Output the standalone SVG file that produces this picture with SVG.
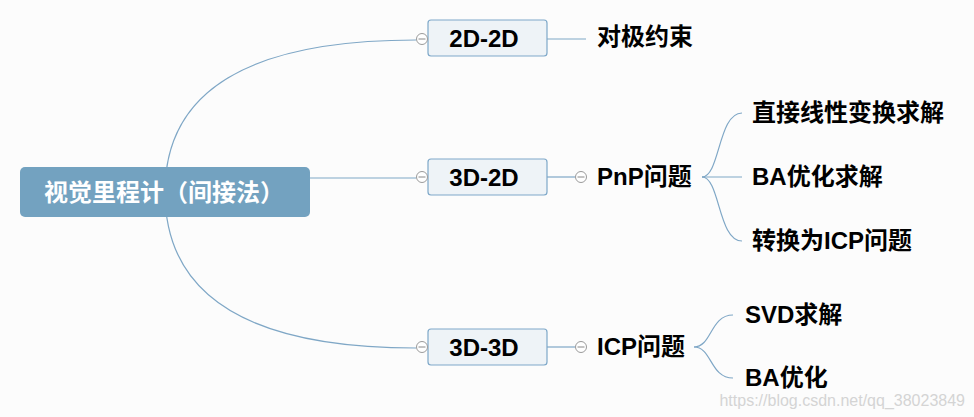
<svg xmlns="http://www.w3.org/2000/svg" width="974" height="417" viewBox="0 0 974 417">
<style>
.ln{fill:none;stroke:#7fa7c6;stroke-width:1.2}
.box{fill:#eef3f7;stroke:#7ea8c9;stroke-width:1.2}
.t{font-family:"Liberation Sans","Noto Sans CJK SC",sans-serif;font-weight:bold;font-size:24px;fill:#000}
.tc{text-anchor:middle}
.col circle{fill:#fff;stroke:#9a9a9a;stroke-width:1}
.col line{stroke:#888;stroke-width:1}
</style>
<rect width="974" height="417" fill="#fcfcfc"/>
<g id="connectors">
<path class="ln" d="M165,192 Q165,40 416,40"/>
<path class="ln" d="M310,178 L416,178"/>
<path class="ln" d="M165,192 Q165,348 416,348"/>
<path class="ln" d="M547,39 L586,39"/>
<path class="ln" d="M547,177 L575,177"/>
<path class="ln" d="M547,347 L575,347"/>
<path class="ln" d="M702,177 C720,177 718,113 742,113"/>
<path class="ln" d="M702,177 L742,177"/>
<path class="ln" d="M702,177 C720,177 718,241 742,241"/>
<path class="ln" d="M694,347 C712,347 710,315 733,315"/>
<path class="ln" d="M694,347 C712,347 710,378 733,378"/>
</g>
<g id="root">
<rect x="20" y="167" width="290" height="50" rx="5" fill="#73a2c0"/>
<text class="t tc" x="164" y="201" style="fill:#fff">视觉里程计（间接法）</text>
</g>
<g id="n2d2d">
<rect class="box" x="428" y="20" width="119" height="36" rx="3"/>
<text class="t tc" x="484" y="47">2D-2D</text>
<g class="col"><circle cx="422" cy="39" r="5.5"/><line x1="418.5" y1="39" x2="425.5" y2="39"/></g>
</g>
<g id="n3d2d">
<rect class="box" x="428" y="159" width="119" height="36" rx="3"/>
<text class="t tc" x="484" y="186">3D-2D</text>
<g class="col"><circle cx="422" cy="177" r="5.5"/><line x1="418.5" y1="177" x2="425.5" y2="177"/></g>
</g>
<g id="n3d3d">
<rect class="box" x="428" y="329" width="119" height="36" rx="3"/>
<text class="t tc" x="484" y="356">3D-3D</text>
<g class="col"><circle cx="422" cy="347" r="5.5"/><line x1="418.5" y1="347" x2="425.5" y2="347"/></g>
</g>
<g id="epipolar"><text class="t" x="597" y="45">对极约束</text></g>
<g id="pnp">
<g class="col"><circle cx="581" cy="177" r="5.5"/><line x1="577.5" y1="177" x2="584.5" y2="177"/></g>
<text class="t" x="597" y="185">PnP问题</text>
</g>
<g id="icp">
<g class="col"><circle cx="581" cy="347" r="5.5"/><line x1="577.5" y1="347" x2="584.5" y2="347"/></g>
<text class="t" x="597" y="355">ICP问题</text>
</g>
<g id="dlt"><text class="t" x="752" y="121">直接线性变换求解</text></g>
<g id="ba1"><text class="t" x="752" y="185">BA优化求解</text></g>
<g id="toicp"><text class="t" x="752" y="249">转换为ICP问题</text></g>
<g id="svd"><text class="t" x="745" y="323">SVD求解</text></g>
<g id="ba2"><text class="t" x="745" y="386">BA优化</text></g>
<text x="965" y="406" text-anchor="end" style="font-family:'Liberation Sans',sans-serif;font-size:16px;fill:#d4d4d4">https://blog.csdn.net/qq_38023849</text>
</svg>
